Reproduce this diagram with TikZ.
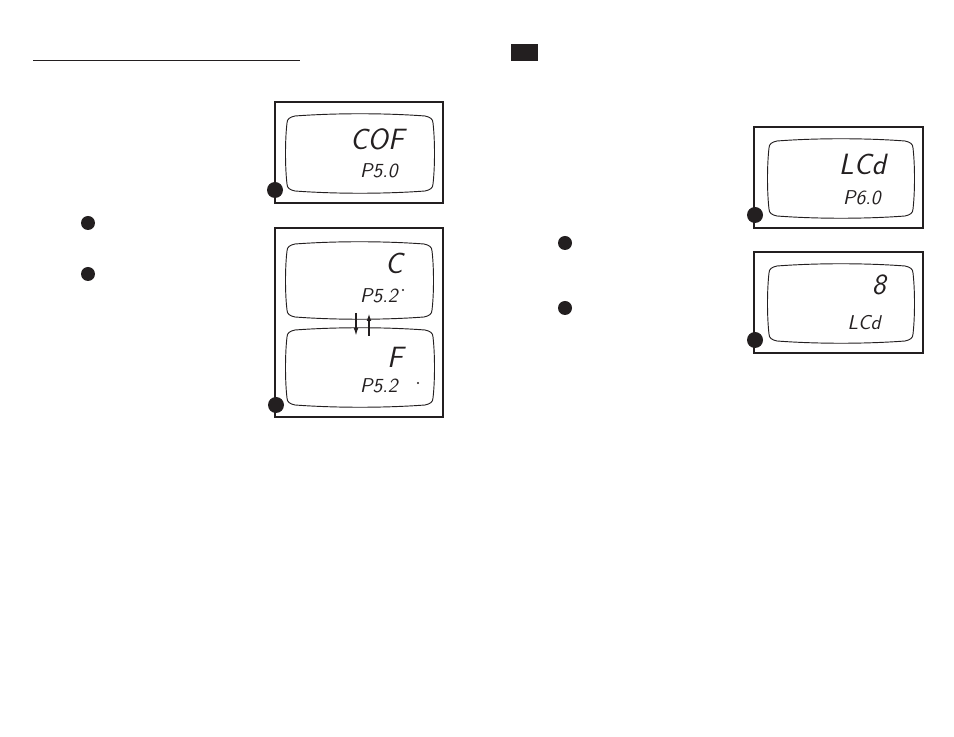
\documentclass[tikz,border=0pt]{standalone}
\usetikzlibrary{arrows.meta}
\newcommand\lcdscr[4]{\draw[screen] ({#1+8},{#2+3}) .. controls ({#1+(#3-#1)/3},{#2}) and ({#3-(#3-#1)/3},{#2}) .. ({#3-8},{#2+3}) .. controls ({#3-3},{#2+4}) and ({#3},{#2+6}) .. ({#3},{#2+10}) .. controls ({#3+2},{#2+(#4-#2)/3}) and ({#3+2},{#4-(#4-#2)/3}) .. ({#3},{#4-10}) .. controls ({#3},{#4-6}) and ({#3-3},{#4-4}) .. ({#3-8},{#4-3}) .. controls ({#3-(#3-#1)/3},{#4}) and ({#1+(#3-#1)/3},{#4}) .. ({#1+8},{#4-3}) .. controls ({#1+3},{#4-4}) and ({#1},{#4-6}) .. ({#1},{#4-10}) .. controls ({#1-2},{#4-(#4-#2)/3}) and ({#1-2},{#2+(#4-#2)/3}) .. ({#1},{#2+10}) .. controls ({#1},{#2+6}) and ({#1+3},{#2+4}) .. cycle;}
\definecolor{ink}{RGB}{35,31,32}
\tikzset{
  frame/.style={draw=ink, line width=1.9pt},
  screen/.style={draw=ink, line width=0.7pt},
  bullet/.style={circle, fill=ink, inner sep=0pt, minimum size=10.5pt},
  smallbullet/.style={circle, fill=ink, inner sep=0pt, minimum size=12pt},
  bigtxt/.style={inner sep=0pt, anchor=east, font=\fontsize{22}{22}\selectfont\sffamily\itshape, text=ink},
  smalltxt/.style={inner sep=0pt, anchor=east, font=\fontsize{15}{15}\selectfont\sffamily\itshape, text=ink},
  lcddot/.style={circle, fill=ink, inner sep=0pt, minimum size=1.8pt},
  togg/.style={draw=ink, line width=1.1pt, -{Latex[length=6pt,width=3.5pt]}}
}
\begin{document}
\begin{tikzpicture}[x=0.75pt, y=-0.75pt]
\path (0,0) rectangle (954,737);
% header
\draw[ink, line width=0.9pt] (33,60.5) -- (300,60.5);
\fill[ink] (511,44) rectangle (538,61);
% left bullets
\node[bullet] (b1) at (88,223) {};
\node[bullet] (b2) at (88,274) {};
% right bullets
\node[bullet] (b3) at (565,243) {};
\node[bullet] (b4) at (565,308) {};
% box 1
\draw[frame] (275,102) rectangle (443,203);
\lcdscr{287}{113}{433}{194}
\node[bigtxt] (t1) at (404,139) {COF};
\node[smalltxt] (t2) at (398,171) {P5.0};
\node[smallbullet] (d1) at (275,190) {};
% box 2
\draw[frame] (275,228) rectangle (443,417);
\lcdscr{287}{241}{432}{320}
\lcdscr{287}{327}{433}{408}
\node[bigtxt] (t3) at (403,263) {C};
\node[smalltxt] (t4) at (398,296) {P5.2};
\node[lcddot] (p1) at (403,290) {};
\node[bigtxt] (t5) at (403,357) {F};
\node[smalltxt] (t6) at (398,386) {P5.2};
\node[lcddot] (p2) at (418,383) {};
\coordinate (a1) at (356,313);
\coordinate (a2) at (356,336);
\coordinate (a3) at (369,336);
\coordinate (a4) at (369,313);
\draw[togg] (a1) -- (a2);
\draw[togg, line width=1.6pt] (a3) -- (a4);
\node[smallbullet] (d2) at (276,405) {};
% box 3
\draw[frame] (754,127) rectangle (923,228);
\lcdscr{769}{138}{913}{219}
\node[bigtxt] (t7) at (886,164) {LCd};
\node[smalltxt] (t8) at (881,198) {P6.0};
\node[smallbullet] (d3) at (755,215) {};
% box 4
\draw[frame] (754,252) rectangle (923,353);
\lcdscr{769}{263}{913}{344}
\node[bigtxt] (t9) at (886,285) {8};
\node[smalltxt] (t10) at (881,323) {LCd};
\node[smallbullet] (d4) at (755,340) {};
\end{tikzpicture}
\end{document}
